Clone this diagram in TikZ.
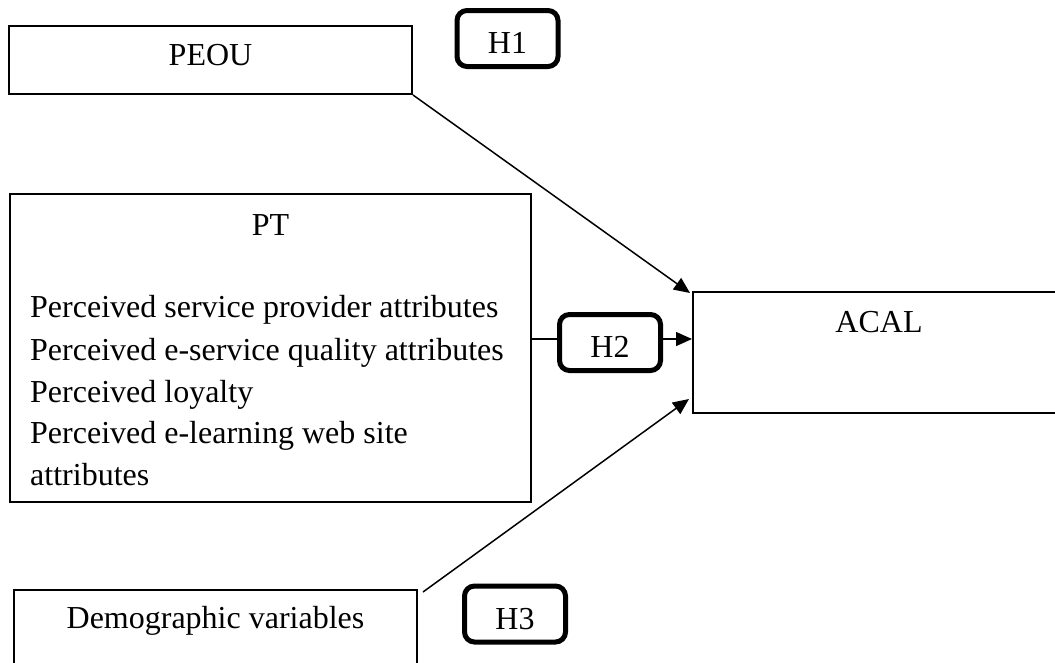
\documentclass[tikz,border=0pt]{standalone}
\usepackage{fontspec}
\setmainfont{Liberation Serif}
\usetikzlibrary{arrows.meta,calc}
\begin{document}
\begin{tikzpicture}[x=1pt,y=-1pt,
  box/.style={draw, line width=1.6pt, inner sep=0pt},
  hbox/.style={draw, line width=5pt, rounded corners=10pt, inner sep=0pt, minimum width=101pt, minimum height=56pt},
  txt/.style={font=\fontsize{32}{38}\selectfont, inner sep=0pt, anchor=base},
  ltxt/.style={font=\fontsize{32}{38}\selectfont, inner sep=0pt, anchor=base west},
  link/.style={line width=1.5pt},
  arr/.style={line width=1.5pt, -{Triangle[length=16pt,width=14pt]}}]
\useasboundingbox (0,0) rectangle (1055,662);
\clip (0,0) rectangle (1055,662);
\fill[white] (0,0) rectangle (1055,662);
% boxes
\node[box, minimum width=403.4pt, minimum height=68.4pt] (peou) at (210.5,60) {};
\node[box, minimum width=521.4pt, minimum height=308.4pt] (pt) at (270.5,348) {};
\node[box, minimum width=372.4pt, minimum height=121.4pt] (acal) at (879,352.5) {};
\node[box, minimum width=403.4pt, minimum height=110pt] (demo) at (215.5,645) {};
\node[hbox] (h1) at (507.5,38.5) {};
\node[hbox] (h2) at (610,342.5) {};
\node[hbox] (h3) at (515,614) {};
% texts
\node[txt] (peoutxt) at (210.5,65) {PEOU};
\node[txt] (h1txt) at (507.5,53) {H1};
\node[txt] (pttxt) at (270.5,235) {PT};
\node[ltxt] (l1) at (30,317) {Perceived service provider attributes};
\node[ltxt] (l2) at (30,360) {Perceived e-service quality attributes};
\node[ltxt] (l3) at (30,402) {Perceived loyalty};
\node[ltxt] (l4) at (30,443) {Perceived e-learning web site};
\node[ltxt] (l5) at (30,485) {attributes};
\node[txt] (acaltxt) at (879,332) {ACAL};
\node[txt] (h2txt) at (610,357) {H2};
\node[txt] (demotxt) at (215.5,628) {Demographic variables};
\node[txt] (h3txt) at (515,629) {H3};
% connectors
\coordinate (t1) at (690,293);
\coordinate (s3) at (423,592);
\coordinate (t3) at (689,399);
\coordinate (y2) at (0,339);
\draw[arr] (peou.south east) -- (t1);
\draw[arr] (s3) -- (t3);
\draw[link] (pt.east |- y2) -- (h2.west |- y2);
\draw[arr] (h2.east |- y2) -- (acal.west |- y2);
\end{tikzpicture}
\end{document}
